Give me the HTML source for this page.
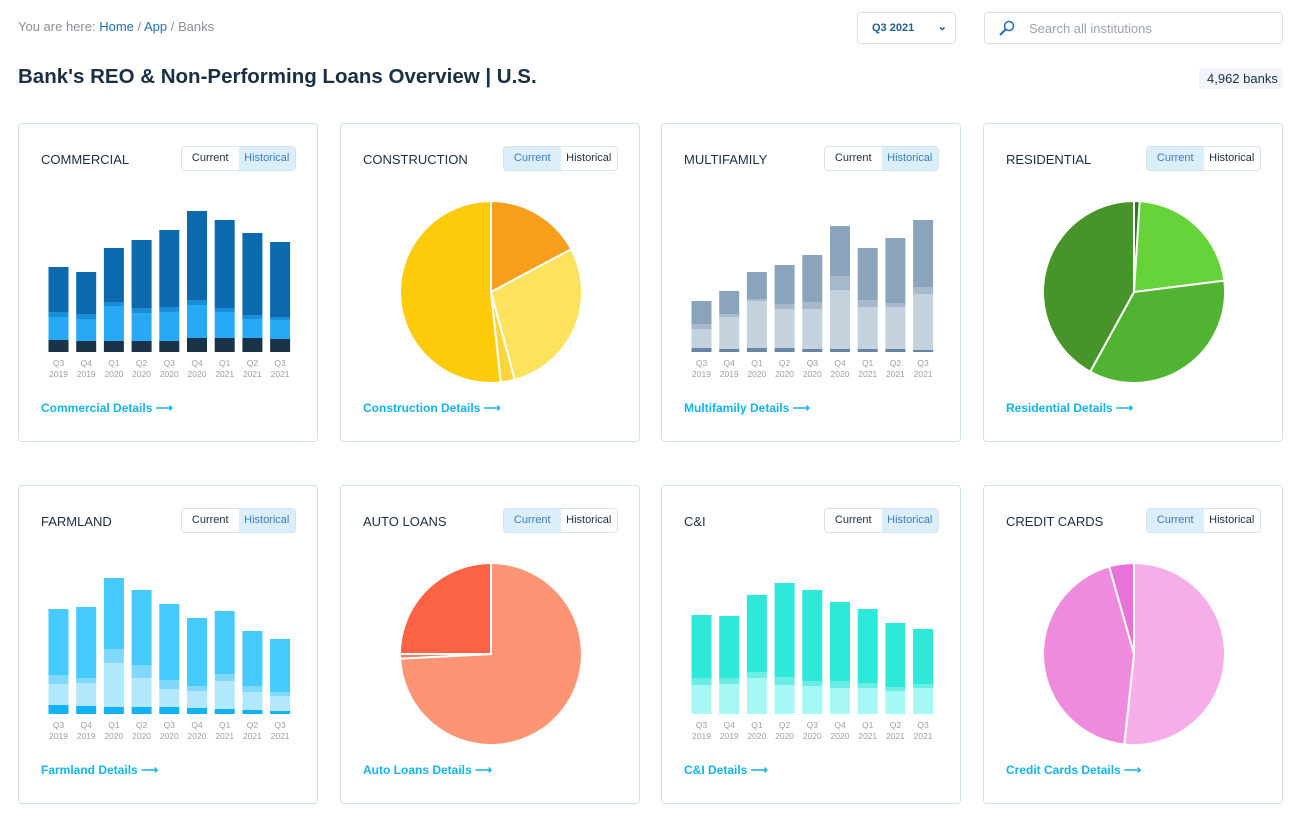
<!DOCTYPE html>
<html><head><meta charset="utf-8">
<style>
*{box-sizing:border-box;margin:0;padding:0}
body{width:1300px;height:822px;background:#fff;font-family:"Liberation Sans",sans-serif;position:relative;overflow:hidden;color:#1a2e44}
.abs{position:absolute}
.crumb{left:18px;top:19px;font-size:13px;color:#8a8f96}
.crumb a{color:#1f6fb2;text-decoration:none}
h1{position:absolute;left:18px;top:65px;font-size:20.5px;font-weight:bold;color:#1a2e44}
.sel{left:857px;top:12px;width:99px;height:32px;border:1px solid #d5e3ee;border-radius:4px;font-size:11px;font-weight:bold;color:#1f5f96;padding:9px 0 0 14px}
.sel span{position:absolute;right:8px;top:7px;font-size:11px}
.search{left:984px;top:12px;width:299px;height:32px;border:1px solid #d5e3ee;border-radius:4px;font-size:13px;color:#9aa3ab;padding:8px 0 0 44px}
.count{left:1199px;top:68px;width:84px;height:21px;background:#f1f5f9;border-radius:4px;font-size:13px;color:#1a2e44;padding:3px 0 0 8px}
.card{position:absolute;width:300px;height:319px;border:1px solid #cfe3ec;border-radius:4px}
.card .t{position:absolute;left:22px;top:28px;font-size:13px;color:#1a2e44}
.tg{position:absolute;left:162px;top:22px;width:115px;height:25px;border:1px solid #d5e3ee;border-radius:4px;display:flex;font-size:11px;overflow:hidden}
.tg div{flex:1;text-align:center;padding-top:5px;color:#1a2e44}
.tg .on{background:#ddeefb;color:#3a7dbf}
.det{position:absolute;left:22px;top:277px;font-size:12px;font-weight:bold;color:#13b4ea}
svg{position:absolute;left:0;top:0}
</style></head><body>
<div class="abs crumb">You are here: <a>Home</a> / <a>App</a> / Banks</div>
<h1>Bank's REO &amp; Non-Performing Loans Overview | U.S.</h1>
<div class="abs sel">Q3 2021<span>&#8964;</span></div>
<div class="abs search"><svg width="20" height="20" style="left:12px;top:6px"><circle cx="12" cy="7" r="4.5" fill="none" stroke="#1f6fb2" stroke-width="1.5"/><line x1="9" y1="10" x2="3" y2="16" stroke="#1f6fb2" stroke-width="2"/></svg>Search all institutions</div>
<div class="abs count">4,962 banks</div>
<div id="cards"></div>
<script>
const quarters=["Q3","Q4","Q1","Q2","Q3","Q4","Q1","Q2","Q3"];
const years=["2019","2019","2020","2020","2020","2020","2021","2021","2021"];
const commercialS1=[12,11,11,11,11,14,14,14,13];
const commercialS2=[23,22,35,28,29,33,26,19,19];
const commercialS3=[5,5,4,5,5,5,4,4,3];
const commercialS4=[45,42,54,68,77,89,88,82,75];
const multiS1=[4,3,4,4,3,3,3,3,2];
const multiS2=[19,32,47,39,40,59,42,42,56];
const multiS3=[5,3,2,5,7,14,7,4,7];
const multiS4=[23,23,27,39,47,50,52,65,67];
const farmS1=[9,8,7,7,7,6,5,4,3];
const farmS2=[21,23,44,29,18,17,28,18,15];
const farmS3=[9,5,14,13,9,5,7,6,4];
const farmS4=[66,71,71,75,76,68,63,55,53];
const ciS1=[29,30,36,29,28,26,26,23,26];
const ciS2=[7,6,6,8,5,7,5,4,4];
const ciS3=[63,62,77,94,91,79,74,64,55];
const constructionPie=[17.2,28.6,2.5,51.7];
const residentialPie=[1,22,35,42];
const autoPie=[74.2,0.8,25];
const creditPie=[51.7,43.9,4.4];

const cards=[
 {name:"commercial",title:"COMMERCIAL",x:18,y:123,hist:true,link:"Commercial Details",series:[commercialS1,commercialS2,commercialS3,commercialS4],colors:["#1b3349","#27a9f5","#1a8fd8","#0b6aad"]},
 {name:"construction",title:"CONSTRUCTION",x:340,y:123,hist:false,link:"Construction Details",pie:constructionPie,colors:["#f79f1a","#fde25e","#fdd43a","#fdcb0a"]},
 {name:"multifamily",title:"MULTIFAMILY",x:661,y:123,hist:true,link:"Multifamily Details",series:[multiS1,multiS2,multiS3,multiS4],colors:["#6885a3","#c4d2de","#a6bacb","#8aa4bc"]},
 {name:"residential",title:"RESIDENTIAL",x:983,y:123,hist:false,link:"Residential Details",pie:residentialPie,colors:["#2f7a1f","#66d33a","#50b331","#47952a"]},
 {name:"farmland",title:"FARMLAND",x:18,y:485,hist:true,link:"Farmland Details",series:[farmS1,farmS2,farmS3,farmS4],colors:["#12b2f5","#b1e8fb","#80d9fa","#46c9fb"]},
 {name:"auto-loans",title:"AUTO LOANS",x:340,y:485,hist:false,link:"Auto Loans Details",pie:autoPie,colors:["#fd9574","#fb7a5a","#fc6244"]},
 {name:"c-and-i",title:"C&amp;I",x:661,y:485,hist:true,link:"C&amp;I Details",series:[ciS1,ciS2,ciS3],colors:["#a5f8f4","#6aeee3","#2ee8d9"]},
 {name:"credit-cards",title:"CREDIT CARDS",x:983,y:485,hist:false,link:"Credit Cards Details",pie:creditPie,colors:["#f5aee8","#ee8bdc","#e673d5"]}
];
const NS="http://www.w3.org/2000/svg";
const host=document.getElementById('cards');
function xPos(i){return 29.5+i*27.7;}
function yLen(v){return v*1.0;}
const BASE=228;
cards.forEach(c=>{
 const d=document.createElement('div');
 d.className='card';d.style.left=c.x+'px';d.style.top=c.y+'px';
 
 
 d.innerHTML=`<div class="t">${c.title}</div>
 <div class="tg"><div class="${c.hist?'':'on'}">Current</div><div class="${c.hist?'on':''}">Historical</div></div>
 <div class="det">${c.link} &#10230;</div>`;
 const svg=document.createElementNS(NS,'svg');
 svg.setAttribute('width','300');svg.setAttribute('height','270');
 
 
 if(c.series){
  quarters.forEach((q,i)=>{
   let y=BASE;
   c.series.forEach((s,k)=>{
    const h=yLen(s[i]);y-=h;
    const r=document.createElementNS(NS,'rect');
    r.setAttribute('x',xPos(i));r.setAttribute('y',y);r.setAttribute('width',20);r.setAttribute('height',h);
    r.setAttribute('fill',c.colors[k]);
    
    
    svg.appendChild(r);
   });
   [[q,242],[years[i],253]].forEach(([t,yy])=>{
    const tx=document.createElementNS(NS,'text');
    tx.setAttribute('x',xPos(i)+10);tx.setAttribute('y',yy);tx.setAttribute('text-anchor','middle');
    tx.setAttribute('font-size','8.5');tx.setAttribute('fill','#9aa0a6');tx.textContent=t;
    
    
    svg.appendChild(tx);
   });
  });
 } else {
  const cx=150,cy=168,R=91;
  const tot=c.pie.reduce((a,b)=>a+b,0);
  let a0=0;
  c.pie.forEach((v,k)=>{
   const a1=a0+v/tot*2*Math.PI;
   const p=(a)=>[cx+R*Math.sin(a),cy-R*Math.cos(a)];
   const [x0,y0]=p(a0),[x1,y1]=p(a1);
   const large=(a1-a0)>Math.PI?1:0;
   const path=document.createElementNS(NS,'path');
   path.setAttribute('d',`M${cx},${cy}L${x0},${y0}A${R},${R} 0 ${large} 1 ${x1},${y1}Z`);
   path.setAttribute('fill',c.colors[k]);path.setAttribute('stroke','#fff');path.setAttribute('stroke-width','2');
   
   
   svg.appendChild(path);
   a0=a1;
  });
 }
 d.appendChild(svg);
 host.appendChild(d);
});
</script>
</body></html>
